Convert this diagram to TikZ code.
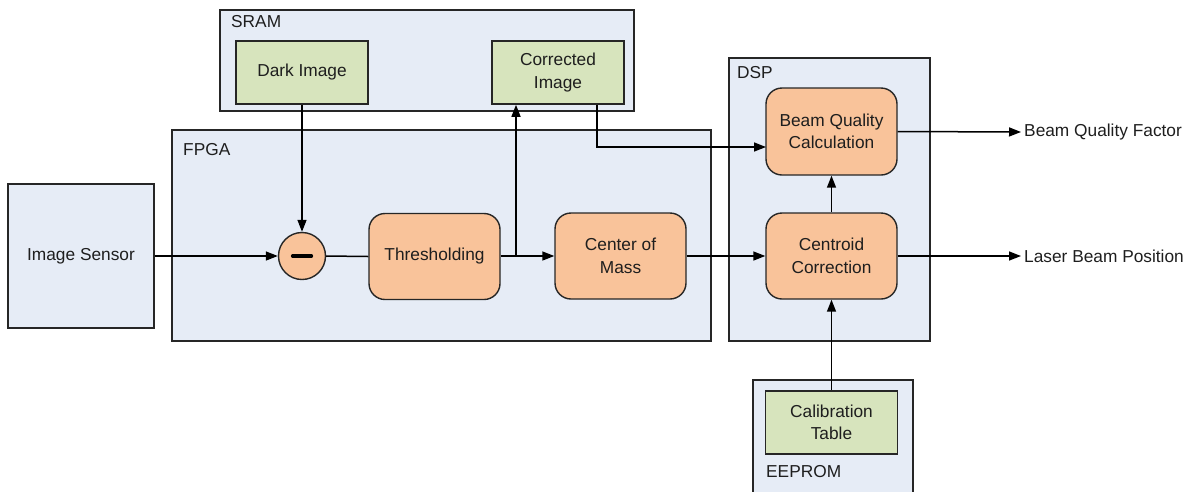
\documentclass[tikz,border=0pt]{standalone}
\usepackage{fontspec}
\setmainfont{Liberation Sans}
\usetikzlibrary{arrows.meta}
\definecolor{contfill}{HTML}{E6ECF6}
\definecolor{memfill}{HTML}{D7E4BD}
\definecolor{procfill}{HTML}{F9C39A}
\definecolor{edge}{HTML}{262626}
\definecolor{txt}{HTML}{1E1E1E}
\begin{document}
\begin{tikzpicture}[x=1pt,y=-1pt,
  font=\fontsize{17.3}{22.5}\selectfont, text=txt,
  container/.style={draw=edge, line width=1.6pt, fill=contfill, inner sep=0pt},
  membox/.style={draw=edge, line width=1.6pt, fill=memfill, minimum width=132pt, minimum height=63pt, align=center, inner sep=0pt},
  procbox/.style={draw=edge, line width=1.4pt, fill=procfill, rounded corners=16pt, minimum width=131pt, minimum height=86pt, align=center, inner sep=0pt},
  lbl/.style={anchor=west, inner sep=0pt},
  conn/.style={draw=black, line width=1.5pt},
  arr/.style={conn, -{Triangle[length=12pt,width=9pt]}}
]
\useasboundingbox (0,0) rectangle (1199,491);
% containers
\node[container, minimum width=414pt, minimum height=101pt] (sram) at (427,60.5) {};
\node[container, minimum width=539pt, minimum height=211pt] (fpga) at (441.5,235.5) {};
\node[container, minimum width=201pt, minimum height=283pt] (dsp) at (829.5,199.5) {};
\node[container, minimum width=160pt, minimum height=124pt] (eeprom) at (833,442) {};
\node[container, minimum width=146pt, minimum height=144pt] (sensor) at (81,256) {Image Sensor};
% container labels
\node[lbl] (sramlbl) at (231,22) {SRAM};
\node[lbl] (fpgalbl) at (183,150) {FPGA};
\node[lbl] (dsplbl) at (737,73) {DSP};
\node[lbl] (eepromlbl) at (766,472) {EEPROM};
% inner blocks
\node[membox] (dark) at (302,72.5) {Dark Image};
\node[membox] (corr) at (558,72.5) {Corrected\\Image};
\node[membox] (calib) at (831.5,422.5) {Calibration\\Table};
\node[draw=edge, line width=1.4pt, fill=procfill, circle, minimum size=47pt, inner sep=0pt] (minus) at (302,256) {};
\draw[line width=3.2pt, line cap=round] ([xshift=-9.5pt]minus.center) -- ([xshift=9.5pt]minus.center);
\node[procbox] (thr) at (434.5,256.5) {Thresholding};
\node[procbox] (com) at (620.5,256) {Center of\\Mass};
\node[procbox, minimum height=87pt] (bqc) at (831.5,131.5) {Beam Quality\\Calculation};
\node[procbox] (cc) at (831.5,256) {Centroid\\Correction};
% outputs
\node[lbl] (bqf) at (1024,132) {Beam Quality Factor};
\node[lbl] (lbp) at (1024,256) {Laser Beam Position};
% connectors
\draw[arr] (sensor.east) -- (minus.west);
\draw[arr] (dark.south) -- (minus.north);
\draw[conn] (minus.east) -- (thr.west);
\coordinate (j) at (516,256);
\draw[arr] (thr.east |- j) -- (com.west);
\draw[arr] (j) -- (j |- corr.south);
\coordinate (cstart) at (597,104);
\coordinate (bqin) at (766,147);
\draw[arr] (cstart |- corr.south) |- (bqin);
\draw[arr] (com.east) -- (cc.west);
\draw[arr] (cc.north) -- (bqc.south);
\draw[arr] (calib.north) -- (cc.south);
\draw[arr] (bqc.east) -- ([xshift=-3pt]bqf.west);
\draw[arr] (cc.east) -- ([xshift=-3pt]lbp.west);
\end{tikzpicture}
\end{document}
